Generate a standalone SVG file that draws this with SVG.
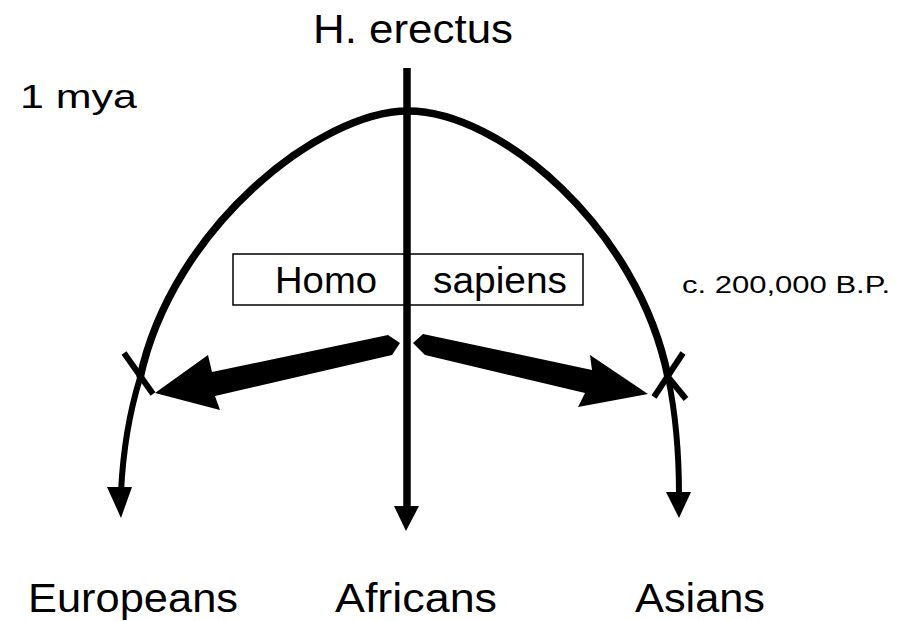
<svg xmlns="http://www.w3.org/2000/svg" width="905" height="621" viewBox="0 0 905 621">
<style>
.t{font-family:"Liberation Sans",Arial,sans-serif;fill:#000}
.ln{fill:none;stroke:#000;stroke-width:7.5}
.thin{fill:none;stroke:#000;stroke-width:6}
.hd{fill:#000;stroke:none}
</style>
<rect width="905" height="621" fill="#fff"/>
<g id="connectors">
  <path class="ln" d="M140,378 C172,228 320,111 408,111 C500,111 638,228 668,377"/>
  <path class="thin" d="M140,378 Q124,430 121,492"/>
  <path class="thin" d="M668,377 Q679,430 679,495"/>
  <polygon class="hd" points="107,487 132,487 121,518"/>
  <polygon class="hd" points="666,492 691,492 679,518"/>
  <line class="ln" x1="407" y1="68" x2="407" y2="510"/>
  <polygon class="hd" points="394,506 419,506 406,531"/>
  <line class="thin" x1="124" y1="353" x2="153" y2="394"/>
  <line class="thin" x1="683" y1="353" x2="654" y2="397"/>
  <line class="thin" x1="668" y1="377" x2="686" y2="399"/>
  <polygon class="hd" stroke="#000" stroke-width="2" stroke-linejoin="round" points="388,335 400,343 392,355 215,396 220,410 155,393 208,355 212,372"/>
  <polygon class="hd" stroke="#000" stroke-width="2" stroke-linejoin="round" points="423,334 413,343 425,355 585,393 578,407 648,394 590,355 592,370"/>
</g>
<g id="box">
  <rect x="233" y="254" width="350" height="51" fill="none" stroke="#000" stroke-width="1.5"/>
  <text class="t" x="275" y="293" font-size="37" textLength="102" lengthAdjust="spacingAndGlyphs">Homo</text>
  <text class="t" x="433" y="293" font-size="37" textLength="134" lengthAdjust="spacingAndGlyphs">sapiens</text>
</g>
<g id="herectus"><text class="t" x="313" y="43" font-size="41" textLength="200" lengthAdjust="spacingAndGlyphs">H. erectus</text></g>
<g id="mya"><text class="t" x="20" y="108" font-size="34" textLength="117" lengthAdjust="spacingAndGlyphs">1 mya</text></g>
<g id="bp"><text class="t" x="682" y="293" font-size="24" textLength="208" lengthAdjust="spacingAndGlyphs">c. 200,000 B.P.</text></g>
<g id="europeans"><text class="t" x="28" y="612" font-size="40" textLength="210" lengthAdjust="spacingAndGlyphs">Europeans</text></g>
<g id="africans"><text class="t" x="335" y="612" font-size="40" textLength="162" lengthAdjust="spacingAndGlyphs">Africans</text></g>
<g id="asians"><text class="t" x="635" y="612" font-size="40" textLength="130" lengthAdjust="spacingAndGlyphs">Asians</text></g>
</svg>
